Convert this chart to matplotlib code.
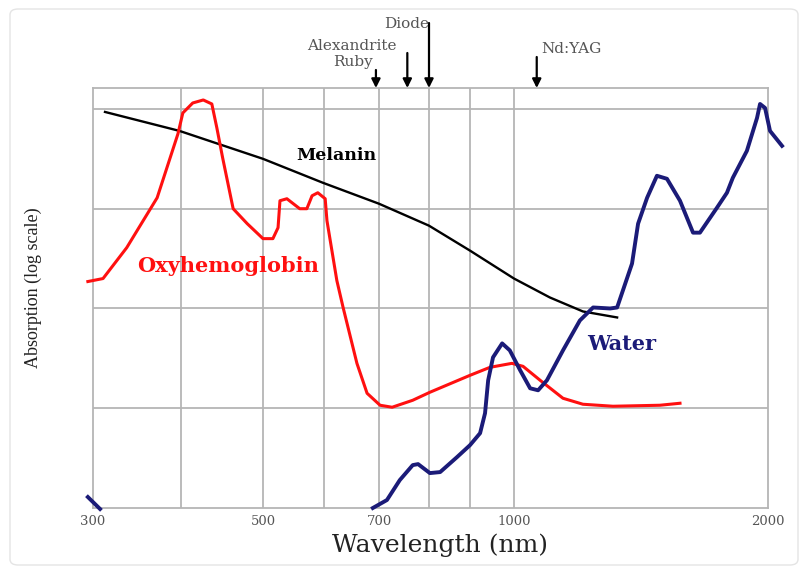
import numpy as np
import matplotlib.pyplot as plt
from matplotlib.patches import FancyBboxPatch

# Melanin curve (wavelength nm, relative log absorption)
mel_wl = [312, 398, 500, 598, 700, 800, 900, 1000, 1103, 1207, 1325]
mel_abs = [3.97, 3.78, 3.50, 3.26, 3.05, 2.83, 2.58, 2.30, 2.11, 1.97, 1.91]

# Oxyhemoglobin curve
hb_wl = [295, 310, 335, 370, 396, 402, 413, 425, 435, 441, 448, 461, 479, 500,
         515, 523, 526, 537, 558, 570, 579, 589, 602, 605, 622, 633, 658, 677,
         702, 725, 766, 802, 900, 944, 995, 1025, 1074, 1143, 1207, 1310, 1489, 1573]
hb_abs = [2.27, 2.30, 2.61, 3.11, 3.75, 3.96, 4.06, 4.09, 4.05, 3.81, 3.51, 3.00,
          2.85, 2.70, 2.70, 2.81, 3.08, 3.10, 3.00, 3.00, 3.13, 3.16, 3.10, 2.88,
          2.28, 2.01, 1.45, 1.15, 1.03, 1.01, 1.08, 1.16, 1.33, 1.41, 1.45, 1.42,
          1.28, 1.10, 1.04, 1.02, 1.03, 1.05]

# Water curve (short tail at the left, main part from 690 nm)
water_tail_wl = [295, 307]
water_tail_abs = [0.11, -0.01]
water_wl = [688, 715, 740, 766, 777, 802, 826, 867, 900, 922, 933, 940, 951, 972,
            990, 1017, 1045, 1068, 1094, 1143, 1197, 1241, 1300, 1325, 1346, 1380,
            1403, 1438, 1477, 1518, 1573, 1630, 1661, 1740, 1788, 1817, 1888, 1941,
            1957, 1984, 2011, 2078]
water_abs = [0.00, 0.08, 0.28, 0.43, 0.44, 0.35, 0.36, 0.51, 0.63, 0.75, 0.95,
             1.28, 1.51, 1.65, 1.58, 1.38, 1.20, 1.18, 1.28, 1.58, 1.88, 2.01,
             2.00, 2.01, 2.18, 2.45, 2.85, 3.11, 3.33, 3.30, 3.08, 2.76, 2.76,
             3.01, 3.16, 3.31, 3.58, 3.91, 4.05, 4.01, 3.78, 3.63]

# Lasers
laser_names = ['Ruby', 'Alexandrite', 'Diode', 'Nd:YAG']
laser_wl = [694, 755, 800, 1064]

grid_x = [400, 500, 600, 700, 800, 900, 1000]
tick_x = [300, 500, 700, 1000, 2000]

# the original axis is a hand-drawn log axis: spacing of its gridlines
scale_wl = np.log10([300, 400, 500, 600, 700, 800, 900, 1000, 2000])
scale_pos = np.array([0, 88, 170, 231, 286, 336, 377, 421, 675]) / 675.0
slope_lo = (scale_pos[1] - scale_pos[0]) / (scale_wl[1] - scale_wl[0])
slope_hi = (scale_pos[-1] - scale_pos[-2]) / (scale_wl[-1] - scale_wl[-2])


def fwd(x):
    lx = np.log10(np.clip(np.asarray(x, dtype=float), 1e-6, None))
    p = np.interp(lx, scale_wl, scale_pos)
    p = np.where(lx < scale_wl[0], scale_pos[0] + (lx - scale_wl[0]) * slope_lo, p)
    p = np.where(lx > scale_wl[-1], scale_pos[-1] + (lx - scale_wl[-1]) * slope_hi, p)
    return p


def inv(p):
    p = np.asarray(p, dtype=float)
    lx = np.interp(p, scale_pos, scale_wl)
    lx = np.where(p < scale_pos[0], scale_wl[0] + (p - scale_pos[0]) / slope_lo, lx)
    lx = np.where(p > scale_pos[-1], scale_wl[-1] + (p - scale_pos[-1]) / slope_hi, lx)
    return 10 ** lx


serif = ['DejaVu Serif']
fig = plt.figure(figsize=(8.08, 5.71), dpi=100)
W, H = 808, 571

# faint panel border
fig.patches.append(FancyBboxPatch((10 / W, 6 / H), 788 / W, 556 / H,
                                  boxstyle='round,pad=0,rounding_size=0.01',
                                  transform=fig.transFigure, fill=False,
                                  edgecolor='#e4e4e4', lw=1.0))

ax = fig.add_axes([93 / W, 1 - 508 / H, 675 / W, 420 / H])
ax.set_xscale('function', functions=(fwd, inv))
ax.set_xlim(300, 2000)
ax.set_ylim(0, 4.21)

for g in grid_x:
    ax.axvline(g, color='#b5b5b5', lw=1.3, zorder=1)
for g in [1, 2, 3, 4]:
    ax.axhline(g, color='#b5b5b5', lw=1.3, zorder=1)
for s in ax.spines.values():
    s.set_color('#b5b5b5')
    s.set_linewidth(1.3)

ax.set_xticks(tick_x)
ax.set_xticklabels([str(t) for t in tick_x], family=serif, fontsize=9.5, color='#555555')
ax.xaxis.set_minor_locator(plt.NullLocator())
ax.tick_params(axis='x', length=0, pad=5)
ax.set_yticks([])

ax.plot(mel_wl, mel_abs, color='black', lw=1.7, zorder=3)
ax.plot(hb_wl, hb_abs, color='#ff1010', lw=2.2, zorder=4, clip_on=False,
        solid_joinstyle='round')
ax.plot(water_tail_wl, water_tail_abs, color='#1b1b78', lw=2.8, zorder=5, clip_on=False)
ax.plot(water_wl, water_abs, color='#1b1b78', lw=2.8, zorder=5, clip_on=False,
        solid_joinstyle='round')


def figtext(px, py, s, **kw):
    fig.text(px / W, 1 - py / H, s, ha='center', va='center', family=serif, **kw)


figtext(336, 156, 'Melanin', fontsize=12.5, fontweight='bold', color='black')
figtext(228, 266, 'Oxyhemoglobin', fontsize=15, fontweight='bold', color='#ff1010')
figtext(622, 344, 'Water', fontsize=15, fontweight='bold', color='#1b1b78')

# laser arrows
tail_px = [18, 35, 65, 31]
for wl, t in zip(laser_wl, tail_px):
    ax.annotate('', xy=(wl, 4.21), xycoords='data',
                xytext=(0, t), textcoords='offset pixels',
                arrowprops=dict(arrowstyle='-|>', color='black', lw=1.6,
                                mutation_scale=13, shrinkA=0, shrinkB=0),
                annotation_clip=False)

laser_pos = [(353, 62), (352, 46), (407, 24), (571, 49)]
for name, (px, py) in zip(laser_names, laser_pos):
    figtext(px, py, name, fontsize=11, color='#555555')

figtext(440, 545, 'Wavelength (nm)', fontsize=18, color='#222222')
fig.text(33 / W, 1 - 288 / H, 'Absorption (log scale)', rotation=90, ha='center',
         va='center', family=['Liberation Serif'], fontsize=13, color='#222222')

fig.savefig('out.png', dpi=100)
